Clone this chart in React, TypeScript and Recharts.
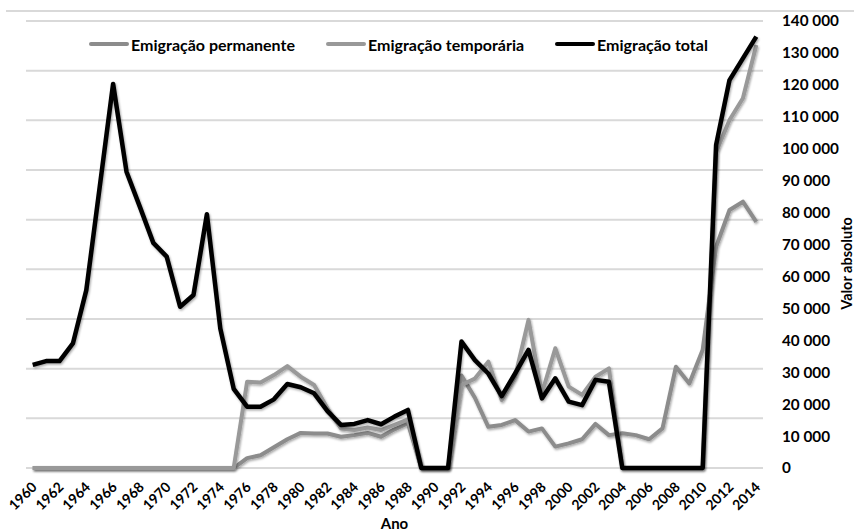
import React from "react";
import { LineChart, Line, XAxis, YAxis, CartesianGrid, Legend } from "recharts";

const years = [
  "1960", "1961", "1962", "1963", "1964", "1965", "1966", "1967", "1968", "1969",
  "1970", "1971", "1972", "1973", "1974", "1975", "1976", "1977", "1978", "1979",
  "1980", "1981", "1982", "1983", "1984", "1985", "1986", "1987", "1988", "1989",
  "1990", "1991", "1992", "1993", "1994", "1995", "1996", "1997", "1998", "1999",
  "2000", "2001", "2002", "2003", "2004", "2005", "2006", "2007", "2008", "2009",
  "2010", "2011", "2012", "2013", "2014",
];

const permanente = [
  0, 0, 0, 0, 0, 0, 0, 0, 0, 0,
  0, 0, 0, 0, 0, 0, 3100, 4000, 6500, 9000,
  11000, 10800, 10800, 9800, 10300, 11000, 9800, 12100, 14000, 0,
  0, 0, 29000, 22000, 12900, 13500, 15000, 11400, 12400, 6700,
  7700, 9000, 13800, 10300, 10900, 10300, 9000, 12400, 31700, 26500,
  37000, 69300, 80800, 83400, 77100,
];

const temporaria = [
  0, 0, 0, 0, 0, 0, 0, 0, 0, 0,
  0, 0, 0, 0, 0, 0, 27000, 26800, 29100, 31900,
  28600, 26000, 18700, 12400, 11900, 12700, 11900, 13500, 15200, 0,
  0, 0, 26000, 28000, 33300, 21300, 28600, 46400, 23400, 37500,
  25500, 22900, 28600, 31200, 0, 0, 0, 0, 0, 0,
  0, 99000, 109000, 115800, 132500,
];

const total = [
  32300, 33500, 33500, 39000, 55700, 88000, 120300, 92800, 81800, 70500,
  66200, 50500, 54200, 79500, 43700, 24800, 19200, 19200, 21500, 26300,
  25300, 23400, 17800, 13500, 13800, 15000, 13700, 16100, 18200, 0,
  0, 0, 39600, 33800, 29600, 22500, 29600, 37000, 21800, 28100,
  20800, 19700, 27600, 27000, 0, 0, 0, 0, 0, 0,
  0, 101200, 121500, 128300, 135100,
];

const yTicks = [
  0, 10000, 20000, 30000, 40000, 50000, 60000, 70000,
  80000, 90000, 100000, 110000, 120000, 130000, 140000,
];

const data = years.map((ano, i) => ({
  ano,
  permanente: permanente[i],
  temporaria: temporaria[i],
  total: total[i],
}));

const FONT = "Lato, 'Open Sans', sans-serif";

function fmt(v: number): string {
  return String(v).replace(/\B(?=(\d{3})+(?!\d))/g, " ");
}

function YearTick({ x, y, payload }: any) {
  const tx = x + 5;
  const ty = y + 12;
  return (
    <text
      x={tx}
      y={ty}
      transform={`rotate(-45 ${tx} ${ty})`}
      textAnchor="end"
      fill="#000"
      fontSize={14}
      fontWeight={700}
      fontFamily={FONT}
    >
      {payload.value}
    </text>
  );
}

function LegendRow({ payload }: any) {
  return (
    <div
      style={{
        display: "flex",
        justifyContent: "center",
        alignItems: "center",
        gap: 31,
        height: 18,
        fontFamily: FONT,
      }}
    >
      {(payload || []).map((p: any) => (
        <div key={p.value} style={{ display: "flex", alignItems: "center" }}>
          <span
            style={{
              display: "inline-block",
              width: 40,
              height: 4,
              borderRadius: 2,
              background: p.color,
            }}
          />
          <span style={{ marginLeft: 2, fontSize: 16, fontWeight: 700, color: "#000" }}>
            {p.value}
          </span>
        </div>
      ))}
    </div>
  );
}

export default function App() {
  return (
    <div style={{ position: "absolute", left: 0, top: 0, width: 854, height: 532, background: "#fff", fontFamily: FONT }}>
      <svg width={0} height={0} style={{ position: "absolute" }}>
        <defs>
          <filter id="soft" x="-5%" y="-5%" width="110%" height="110%">
            <feDropShadow dx={1} dy={1.5} stdDeviation={1.2} floodColor="#000" floodOpacity={0.35} />
          </filter>
        </defs>
      </svg>
      <div style={{ position: "absolute", left: 6, top: 10, width: 848, height: 2, background: "#d9d9d9" }} />
      <LineChart
        width={854}
        height={532}
        data={data}
        margin={{ top: 21, right: 0, left: 26, bottom: 0 }}
      >
        <CartesianGrid
          vertical={false}
          yAxisId="right"
          stroke="#d9d9d9"
          strokeWidth={2}
          horizontalCoordinatesGenerator={({ offset }: any) =>
            [0, 1, 2, 3, 4, 5, 6, 7, 8, 9].map((k) => offset.top + (offset.height * k) / 9)
          }
        />
        <XAxis
          dataKey="ano"
          interval={1}
          height={64}
          padding={{ left: 6.7, right: 6.7 }}
          axisLine={false}
          tickLine={false}
          tick={<YearTick />}
          label={{
            value: "Ano",
            position: "insideBottom",
            offset: 3,
            fill: "#000",
            fontSize: 15,
            fontWeight: 700,
            fontFamily: FONT,
          }}
        />
        <YAxis
          yAxisId="right"
          orientation="right"
          width={91}
          domain={[0, 140000]}
          ticks={yTicks}
          interval={0}
          axisLine={false}
          tickLine={false}
          tickMargin={13}
          tickFormatter={fmt}
          tick={{ fill: "#000", fontSize: 15.3, fontWeight: 700, fontFamily: FONT }}
          label={{
            value: "Valor absoluto",
            angle: -90,
            position: "center",
            dx: 38,
            dy: 19,
            fill: "#000",
            fontSize: 14.5,
            fontWeight: 700,
            fontFamily: FONT,
          }}
        />
        <Legend
          verticalAlign="middle"
          wrapperStyle={{ top: 35, left: 0, width: 797 }}
          content={<LegendRow />}
        />
        <Line
          yAxisId="right"
          type="linear"
          dataKey="permanente"
          name="Emigração permanente"
          stroke="#8c8c8c"
          strokeWidth={4}
          strokeLinejoin="round"
          filter="url(#soft)"
          dot={false}
          activeDot={false}
          isAnimationActive={false}
        />
        <Line
          yAxisId="right"
          type="linear"
          dataKey="temporaria"
          name="Emigração temporária"
          stroke="#999999"
          strokeWidth={4}
          strokeLinejoin="round"
          filter="url(#soft)"
          dot={false}
          activeDot={false}
          isAnimationActive={false}
        />
        <Line
          yAxisId="right"
          type="linear"
          dataKey="total"
          name="Emigração total"
          stroke="#000000"
          strokeWidth={4.5}
          strokeLinejoin="round"
          filter="url(#soft)"
          dot={false}
          activeDot={false}
          isAnimationActive={false}
        />
      </LineChart>
    </div>
  );
}
